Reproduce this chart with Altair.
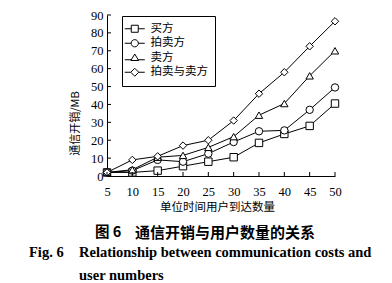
import altair as alt
import pandas as pd

# ---- data ----
x_vals = [5, 10, 15, 20, 25, 30, 35, 40, 45, 50]
buyer = [2, 2, 3, 5.5, 8, 10.5, 18.5, 23.5, 28, 40.5]
auctioneer = [2, 3, 9, 8, 12.5, 19, 25, 25.5, 37, 49.5]
seller = [2, 3.5, 10.5, 11.5, 16, 22, 34, 40.5, 56, 70]
both = [2, 9, 11, 17, 20, 31, 46, 58, 72.5, 86.5]
series_names = ["买方", "拍卖方", "卖方", "拍卖与卖方"]
x_ticks = [5, 10, 15, 20, 25, 30, 35, 40, 45, 50]
y_ticks = [0, 10, 20, 30, 40, 50, 60, 70, 80, 90]

x_title = "单位时间用户到达数量"
y_title = "通信开销/MB"
cap_cn_1 = "图 6"
cap_cn_2 = "通信开销与用户数量的关系"
cap_en_1 = "Fig. 6"
cap_en_2 = "Relationship between communication costs and"
cap_en_3 = "user numbers"

rows = []
for name, vals in zip(series_names, [buyer, auctioneer, seller, both]):
    for xv, yv in zip(x_vals, vals):
        rows.append({"x": xv, "y": yv, "series": name})
df = pd.DataFrame(rows)

W, H = 228, 161
PL, PT = 107, 15

SERIF = "Liberation Serif"
CJK = "Noto Sans CJK SC"

xscale = alt.Scale(domain=[5, 50], nice=False, zero=False)
yscale = alt.Scale(domain=[0, 90], nice=False)

x_axis = alt.Axis(
    values=x_ticks, title=x_title, tickSize=0, labelPadding=9,
    labelFont=SERIF, labelFontSize=12.5, labelColor="black",
    titleFont=CJK, titleFontSize=11.5, titleFontWeight="normal",
    titlePadding=4, titleX=110, grid=False, labelFlush=False)
y_axis = alt.Axis(
    values=y_ticks, title=y_title, tickSize=0, labelPadding=4,
    labelFont=SERIF, labelFontSize=12.5, labelColor="black",
    titleFont=CJK, titleFontSize=11, titleFontWeight="normal",
    titleX=-32, titleY=108, titleBaseline="middle",
    grid=False)

base = alt.Chart(df)
lines = base.mark_line(color="black", strokeWidth=1).encode(
    x=alt.X("x:Q", scale=xscale, axis=x_axis),
    y=alt.Y("y:Q", scale=yscale, axis=y_axis),
    detail="series:N")
points = base.mark_point(filled=True, fill="white", stroke="black",
                         strokeWidth=1, size=55, opacity=1).encode(
    x=alt.X("x:Q", scale=xscale, axis=x_axis),
    y=alt.Y("y:Q", scale=yscale, axis=y_axis),
    shape=alt.Shape("series:N", scale=alt.Scale(
        domain=series_names, range=["square", "circle", "triangle-up", "diamond"]),
        legend=None))

leg_paths = [
    "M-2,0 L-0.7,0 M-0.7,-0.7 L0.7,-0.7 L0.7,0.7 L-0.7,0.7 Z M0.7,0 L2,0",
    "M-2,0 L-0.72,0 M-0.72,0 A0.72,0.72 0 1,1 0.72,0 A0.72,0.72 0 1,1 -0.72,0 M0.72,0 L2,0",
    "M-2,0.4 L-0.62,0.4 M0,-0.75 L0.78,0.55 L-0.78,0.55 Z M0.62,0.4 L2,0.4",
    "M-2,0 L-0.8,0 M0,-0.8 L0.8,0 L0,0.8 L-0.8,0 Z M0.8,0 L2,0",
]
legend_layer = base.mark_point(filled=False, color="black", opacity=1,
                               strokeWidth=1).transform_calculate(
    leg="datum.series").transform_filter("false").encode(
    x=alt.X("x:Q", scale=xscale, axis=x_axis),
    y=alt.Y("y:Q", scale=yscale, axis=y_axis),
    shape=alt.Shape("leg:N", scale=alt.Scale(domain=series_names, range=leg_paths),
                    legend=alt.Legend(
                        title=None, orient="none", legendX=15, legendY=1,
                        strokeColor="black", fillColor="white", padding=7,
                        symbolSize=100, symbolStrokeColor="black",
                        symbolStrokeWidth=1,
                        labelFont=CJK, labelFontSize=11.5, labelOffset=10,
                        rowPadding=1.5, labelColor="black")))

ytick_df = pd.DataFrame({"v": y_ticks})
xtick_df = pd.DataFrame({"v": x_ticks})
ytick_layer = alt.Chart(ytick_df).mark_rule(color="black", strokeWidth=1).encode(
    y=alt.Y("v:Q", scale=yscale, axis=y_axis), x=alt.value(0), x2=alt.value(4))
xtick_layer = alt.Chart(xtick_df).mark_rule(color="black", strokeWidth=1).encode(
    x=alt.X("v:Q", scale=xscale, axis=x_axis), y=alt.value(H), y2=alt.value(H - 4))


def txt(s, x, y, font, size, weight="bold", align="left"):
    return alt.Chart(alt.Data(values=[{}])).mark_text(
        font=font, fontSize=size, fontWeight=weight, align=align,
        baseline="middle", color="black").encode(
        x=alt.value(x - PL), y=alt.value(y - PT), text=alt.value(s))


captions = [
    txt(cap_cn_1, 95, 233, CJK, 14.5),
    txt(cap_cn_2, 135, 233, CJK, 15),
    txt(cap_en_1, 29, 253, SERIF, 14.5),
    txt(cap_en_2, 79, 253, SERIF, 14.5),
    txt(cap_en_3, 79, 276, SERIF, 14.5),
]

chart = alt.layer(lines, points, legend_layer, ytick_layer, xtick_layer, *captions).resolve_scale(
    shape="independent").properties(
    width=W, height=H,
    autosize=alt.AutoSizeParams(type="none"),
    padding={"left": PL, "top": PT, "right": 392 - PL - W, "bottom": 283 - PT - H},
    background="white",
).configure_view(stroke=None).configure_axis(
    domainColor="black", domainWidth=1, labelColor="black", titleColor="black",
    labelFont=SERIF
).configure_legend(strokeColor="black", strokeWidth=1)

chart.save("out.html", embed_options={"renderer": "svg", "actions": False})
